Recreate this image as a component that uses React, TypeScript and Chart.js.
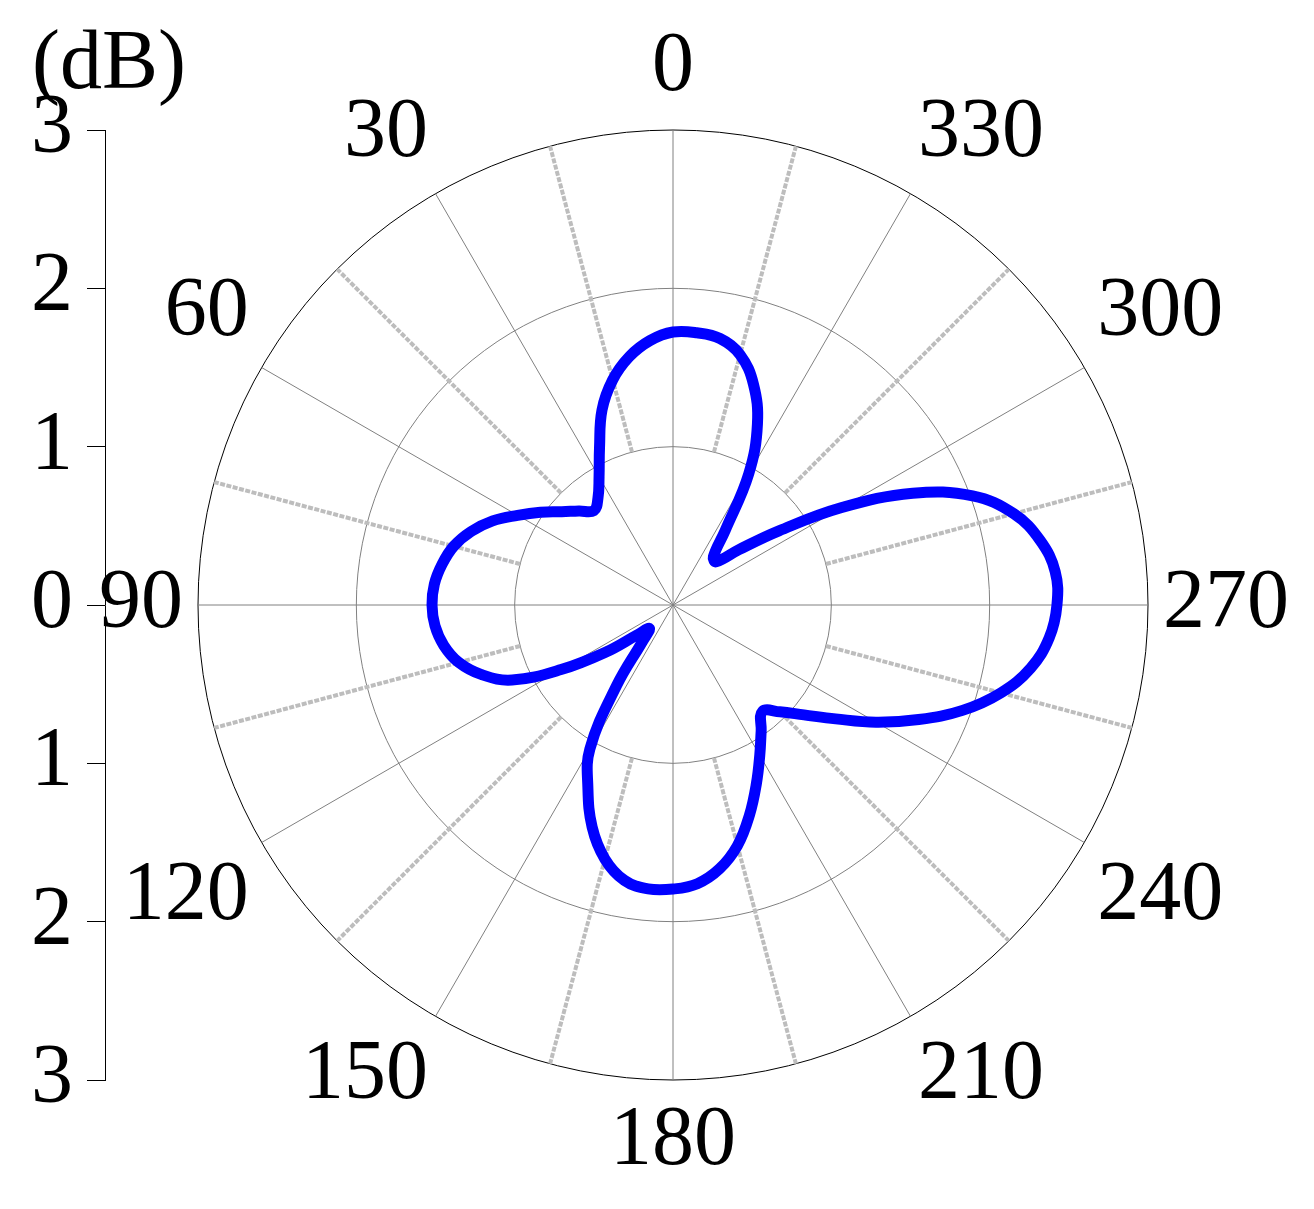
import { useEffect, useRef } from 'react';
import { Chart, registerables } from 'chart.js';

Chart.register(...registerables);

// Polar angles (degrees, counter-clockwise from top) and radiated level (dB)
const ANGLES = [
  0, 5, 10, 15, 20, 25, 30, 35, 40, 45, 50, 55,
  60, 65, 70, 75, 80, 85, 90, 95, 100, 105, 110, 115,
  120, 125, 130, 135, 140, 145, 150, 155, 160, 165, 170, 175,
  180, 185, 190, 195, 200, 205, 210, 215, 220, 225, 230, 235,
  240, 245, 250, 255, 260, 265, 270, 275, 280, 285, 290, 295,
  300, 305, 310, 315, 320, 325, 330, 335, 340, 345, 350, 355,
];
const LEVEL_DB = [
  1.724, 1.676, 1.592, 1.472, 1.311, 1.098, 0.934, 0.826, 0.778, 0.84, 0.917, 1.022,
  1.133, 1.257, 1.357, 1.434, 1.481, 1.513, 1.522, 1.509, 1.47, 1.401, 1.286, 1.121,
  0.816, 0.52, 0.29, 0.21, 0.3, 0.62, 1.05, 1.272, 1.493, 1.661, 1.766, 1.80,
  1.794, 1.767, 1.692, 1.573, 1.412, 1.246, 1.096, 0.971, 0.878, 0.954, 1.08, 1.254,
  1.48, 1.712, 1.946, 2.144, 2.294, 2.385, 2.425, 2.423, 2.354, 2.228, 2.014, 1.671,
  1.231, 0.817, 0.544, 0.386, 0.396, 0.574, 0.957, 1.262, 1.485, 1.637, 1.709, 1.726,
];
const ANGLE_TICKS = [0, 30, 60, 90, 120, 150, 180, 210, 240, 270, 300, 330];
const DB_TICKS = [-3, -2, -1, 0, 1, 2, 3];
const R_MAX = 3;
const UNIT_LABEL = '(dB)';

const FONT_FAMILY = '"Liberation Serif", "Times New Roman", serif';
const FONT_SIZE = 84;

export default function App() {
  const ref = useRef<HTMLCanvasElement | null>(null);

  useEffect(() => {
    if (!ref.current) return;
    const n = ANGLES.length;
    // radar runs clockwise; map chart index -> data index (counter-clockwise angles)
    const order = ANGLES.map((_, i) => (n - i) % n);
    const labels = order.map((k) => String(ANGLES[k]));
    const data = order.map((k) => LEVEL_DB[k]);
    const thetaAt = (i: number) => ANGLES[order[i]];

    const dotted = (chart: any) => {
      const s = chart.scales.r;
      const gap = s ? s.drawingArea / R_MAX : 158;
      const arr: number[] = [0, gap];
      for (let k = 0; k < 70; k++) arr.push(5, 1.5);
      return arr;
    };

    const labelPlugin = {
      id: 'polarLabels',
      afterDraw(chart: any) {
        const s = chart.scales.r;
        const ctx = chart.ctx;
        const R = s.drawingArea;
        const PAD = 15;
        const LH = 94;
        ctx.save();
        ctx.fillStyle = '#000';
        ctx.font = `${FONT_SIZE}px ${FONT_FAMILY}`;
        ctx.textBaseline = 'middle';
        for (const th of ANGLE_TICKS) {
          const k = ANGLES.indexOf(th);
          const i = order.indexOf(k);
          const a = (360 - th) % 360; // clockwise from top
          const p = s.getPointPosition(i, R + PAD);
          let align: CanvasTextAlign = 'center';
          if (a === 0 || a === 180) align = 'center';
          else if (a < 180) align = 'left';
          else align = 'right';
          let y = p.y;
          if (a === 90 || a === 270) y = p.y;
          else if (a < 90 || a > 270) y = p.y - LH / 2;
          else y = p.y + LH / 2;
          ctx.textAlign = align;
          ctx.fillText(String(th), p.x, y);
        }
        ctx.textAlign = 'left';
        ctx.textBaseline = 'alphabetic';
        ctx.fillText(UNIT_LABEL, 32, 88);
        ctx.restore();
      },
    };

    const chart = new Chart(ref.current, {
      type: 'radar',
      data: {
        labels,
        datasets: [
          {
            data,
            borderColor: '#0000ff',
            borderWidth: 11,
            pointRadius: 0,
            fill: false,
            tension: 0.4,
            borderJoinStyle: 'round',
            borderCapStyle: 'round',
          } as any,
        ],
      },
      options: {
        responsive: false,
        animation: false,
        devicePixelRatio: 1,
        layout: { padding: { left: 0, right: 73, top: 130, bottom: 129 } },
        plugins: { legend: { display: false }, tooltip: { enabled: false } },
        scales: {
          r: {
            min: 0,
            max: R_MAX,
            ticks: { display: false, stepSize: 1 },
            pointLabels: { display: false },
            grid: {
              circular: true,
              color: (c: any) => (c.tick && c.tick.value === R_MAX ? '#000000' : '#808080'),
              lineWidth: 1,
            },
            angleLines: {
              display: true,
              color: (c: any) => {
                const th = thetaAt(c.index);
                if (th % 30 === 0) return '#808080';
                if (th % 15 === 0) return '#bdbdbd';
                return 'rgba(0,0,0,0)';
              },
              lineWidth: (c: any) => {
                const th = thetaAt(c.index);
                if (th % 30 === 0) return 1;
                if (th % 15 === 0) return 4;
                return 0;
              },
              borderDash: (c: any) => {
                const th = thetaAt(c.index);
                if (th % 30 !== 0 && th % 15 === 0) return dotted(c.chart);
                return [];
              },
            },
          } as any,
          y: {
            type: 'linear',
            position: 'left',
            min: -R_MAX,
            max: R_MAX,
            afterBuildTicks: (s: any) => {
              s.ticks = DB_TICKS.map((v) => ({ value: v }));
            },
            afterFit: (s: any) => {
              s.width = 105;
            },
            ticks: {
              autoSkip: false,
              padding: 14,
              color: '#000',
              font: { family: FONT_FAMILY, size: FONT_SIZE },
              callback: (v: any) => String(Math.abs(Number(v))),
            },
            grid: {
              display: true,
              drawOnChartArea: false,
              drawTicks: true,
              tickLength: 18,
              color: '#000',
              lineWidth: 1,
            },
            border: { display: true, color: '#000', width: 1 },
          } as any,
        },
      },
      plugins: [labelPlugin],
    });
    return () => chart.destroy();
  }, []);

  return (
    <div style={{ position: 'fixed', left: 0, top: 0, width: 1314, height: 1209, background: '#fff' }}>
      <canvas ref={ref} width={1314} height={1209} style={{ display: 'block' }} />
    </div>
  );
}
